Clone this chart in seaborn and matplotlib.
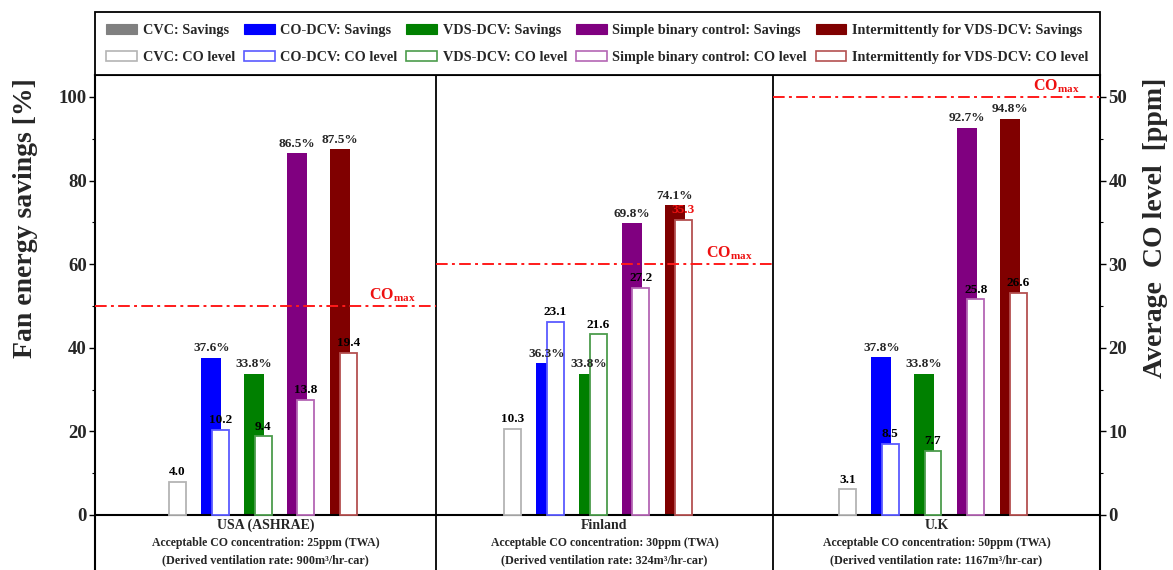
import matplotlib
matplotlib.use("Agg")
import matplotlib.pyplot as plt
from matplotlib.patches import Patch
import pandas as pd
import seaborn as sns

# ---- data -------------------------------------------------------------
regions = ["USA (ASHRAE)", "Finland", "U.K"]
co_limits = [25, 30, 50]          # acceptable CO concentration, ppm (TWA)
vent_rates = [900, 324, 1167]     # derived ventilation rate, m3/hr-car
strategies = ["CVC", "CO-DCV", "VDS-DCV", "Simple binary control",
              "Intermittently for VDS-DCV"]

savings_usa = [0.0, 37.6, 33.8, 86.5, 87.5]
savings_fin = [0.0, 36.3, 33.8, 69.8, 74.1]
savings_uk = [0.0, 37.8, 33.8, 92.7, 94.8]

co_usa = [4.0, 10.2, 9.4, 13.8, 19.4]
co_fin = [10.3, 23.1, 21.6, 27.2, 35.3]
co_uk = [3.1, 8.5, 7.7, 25.8, 26.6]

savings = [savings_usa, savings_fin, savings_uk]
co_levels = [co_usa, co_fin, co_uk]

fill_colors = ["#808080", "#0000ff", "#008000", "#800080", "#800000"]
edge_colors = ["#b4b4b4", "#5a5aff", "#4c9c4c", "#b466b4", "#b45050"]

# ---- style ------------------------------------------------------------
sns.set_theme(style="white")
plt.rcParams["font.family"] = ["Liberation Serif", "DejaVu Serif"]
plt.rcParams["font.weight"] = "bold"
plt.rcParams["axes.labelweight"] = "bold"
plt.rcParams["mathtext.fontset"] = "custom"
plt.rcParams["mathtext.rm"] = "Liberation Serif"
plt.rcParams["mathtext.bf"] = "Liberation Serif:bold"

W, H = 1173, 570
fig = plt.figure(figsize=(W / 100, H / 100), dpi=100)
ax = fig.add_axes([95 / W, 0, 1005 / W, 495 / H])
ax2 = ax.twinx()

# layout in units of one group step
step = 42.75
panel_edges = [0, 341 / step, 678 / step, 1005 / step]
first = 82.5 / step
period = 335 / step
filled_shift = -9 / step

rows_s, rows_c = [], []
for p in range(len(regions)):
    for i, s in enumerate(strategies):
        xc = first + p * period + i
        rows_s.append({"x": xc + filled_shift, "value": savings[p][i], "strategy": s})
        rows_c.append({"x": xc, "value": co_levels[p][i], "strategy": s})
sav_df = pd.DataFrame(rows_s)
co_df = pd.DataFrame(rows_c)

sns.barplot(data=sav_df, x="x", y="value", hue="strategy", hue_order=strategies,
            palette=dict(zip(strategies, fill_colors)), native_scale=True,
            dodge=False, width=20 / step, linewidth=0, errorbar=None,
            saturation=1, legend=False, ax=ax)
sns.barplot(data=co_df, x="x", y="value", hue="strategy", hue_order=strategies,
            palette=dict(zip(strategies, edge_colors)), native_scale=True,
            dodge=False, width=17 / step, fill=False, linewidth=1.3,
            errorbar=None, saturation=1, legend=False, ax=ax2)
for bar in ax2.patches:
    bar.set_facecolor("white")

# value labels (all drawn on the front axes so they sit above every bar)
for row in rows_s:
    if row["value"] > 0:
        ax2.annotate(f"{row['value']:.1f}%", (row["x"], row["value"]),
                     xycoords=ax.transData, xytext=(0, 2.5),
                     textcoords="offset points", ha="center", va="bottom",
                     fontsize=9.5, fontweight="bold", zorder=7)
for k, row in enumerate(rows_c):
    p = k // len(strategies)
    over = row["value"] > co_limits[p]
    ax2.annotate(f"{row['value']:.1f}", (row["x"], row["value"]),
                 xytext=(0, 2.5), textcoords="offset points",
                 ha="center", va="bottom", fontsize=9.5, fontweight="bold",
                 color="#ee1111" if over else "black", zorder=7)

# CO limits per region
for p, lim in enumerate(co_limits):
    ax2.hlines(lim, panel_edges[p], panel_edges[p + 1], colors="#ff1a1a",
               linestyles=(0, (6, 2.2, 1.5, 2.2)), linewidth=1.4, zorder=5)
    ax2.text(panel_edges[p + 1] - 20 / step, lim + 0.25,
             r"$\mathbf{CO}_{\mathbf{max}}$", color="#ee1111",
             ha="right", va="bottom", fontsize=11.5, zorder=6)

# axes ranges
ax.set_xlim(panel_edges[0], panel_edges[-1])
ax.set_ylim(-13.16, 105.26)
ax2.set_ylim(-6.58, 52.63)

ax.axhline(0, color="black", linewidth=1.5, zorder=4)
for e in panel_edges[1:-1]:
    ax.axvline(e, color="black", linewidth=1.3, zorder=4)

ax.set_xticks([])
ax2.set_xticks([])
ax.set_xlabel("")
ax.set_ylabel("")
ax2.set_ylabel("")

ax.set_yticks([0, 20, 40, 60, 80, 100])
ax.set_yticks([10, 30, 50, 70, 90], minor=True)
ax2.set_yticks([0, 10, 20, 30, 40, 50])
ax2.set_yticks([5, 15, 25, 35, 45], minor=True)
for a, side in ((ax, "left"), (ax2, "right")):
    a.tick_params(axis="y", which="major", direction="out", length=4, width=1,
                  labelsize=13.5, pad=2, color="black",
                  left=(side == "left"), right=(side == "right"),
                  labelleft=(side == "left"), labelright=(side == "right"))
    a.tick_params(axis="y", which="minor", direction="out", length=2.5, width=0.8,
                  color="black", left=(side == "left"), right=(side == "right"))
    for lab in a.get_yticklabels():
        lab.set_fontweight("bold")

for name, sp in ax.spines.items():
    sp.set_color("black")
    sp.set_linewidth(1.5)
    sp.set_visible(name != "bottom")
for sp in ax2.spines.values():
    sp.set_visible(False)

# region captions under each panel
for p, reg in enumerate(regions):
    xc = (panel_edges[p] + panel_edges[p + 1]) / 2
    ax.text(xc, -2.4, reg, ha="center", va="center", fontsize=10, fontweight="bold")
    ax.text(xc, -6.7, f"Acceptable CO concentration: {co_limits[p]}ppm (TWA)",
            ha="center", va="center", fontsize=8.5, fontweight="bold")
    ax.text(xc, -10.8, f"(Derived ventilation rate: {vent_rates[p]}m³/hr-car)",
            ha="center", va="center", fontsize=8.7, fontweight="bold")

# axis titles
fig.text(26 / W, 1 - 78 / H, "Fan energy savings [%]", rotation=90,
         ha="center", va="top", fontsize=20, fontweight="bold")
fig.text(1155 / W, 1 - 78 / H, "Average  CO level  [ppm]", rotation=90,
         ha="center", va="top", fontsize=20, fontweight="bold")

# legend
handles, labels = [], []
for s, fc, ec in zip(strategies, fill_colors, edge_colors):
    handles.append(Patch(facecolor=fc, edgecolor=fc, linewidth=0.8))
    labels.append(f"{s}: Savings")
    handles.append(Patch(facecolor="white", edgecolor=ec, linewidth=1.2))
    labels.append(f"{s}: CO level")
leg = fig.legend(handles, labels, ncol=5, loc="lower left",
                 bbox_to_anchor=(95 / W, 1 - 75 / H, 1005 / W, 63 / H),
                 mode="expand", fontsize=10.3, frameon=True, fancybox=False,
                 edgecolor="black", framealpha=1, borderpad=0.8,
                 labelspacing=0.95, handlelength=2.15, handleheight=0.7,
                 handletextpad=0.4, columnspacing=0.4, borderaxespad=0)
leg.get_frame().set_linewidth(1.3)
for t in leg.get_texts():
    t.set_fontweight("bold")

fig.savefig("out.png", dpi=100)
